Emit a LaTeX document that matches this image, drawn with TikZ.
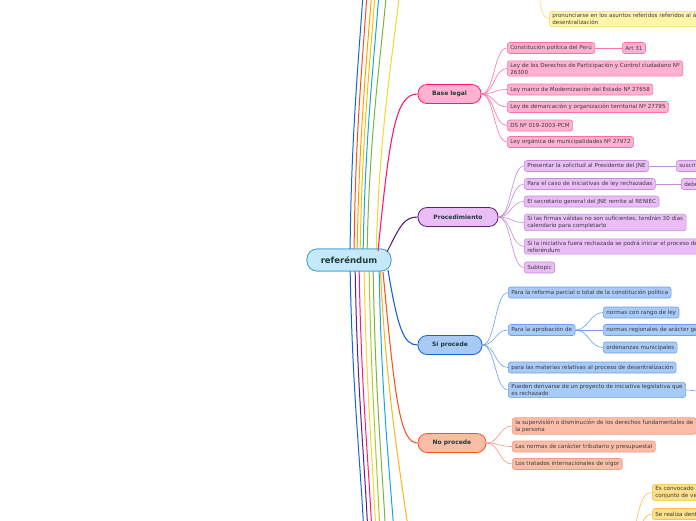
\documentclass[tikz,border=0pt]{standalone}
\usepackage{fontspec}
\setmainfont{DejaVu Sans}
\usetikzlibrary{positioning}
\definecolor{rootFill}{HTML}{C6E9FA}
\definecolor{rootBorder}{HTML}{3B9FD9}
\definecolor{mainText}{HTML}{1F3B3A}
\definecolor{subText}{HTML}{3A3A3A}
\definecolor{pinkMain}{HTML}{FF1A7A}
\definecolor{pinkFill}{HTML}{FFB1D1}
\definecolor{pinkSub}{HTML}{FF70AA}
\definecolor{violetMain}{HTML}{5E1F78}
\definecolor{violetFill}{HTML}{EBBDF7}
\definecolor{violetSub}{HTML}{C68CDA}
\definecolor{blueMain}{HTML}{1A62D6}
\definecolor{blueFill}{HTML}{A8CAF7}
\definecolor{blueSub}{HTML}{6CA1EC}
\definecolor{redMain}{HTML}{F4582A}
\definecolor{redFill}{HTML}{FBBDA8}
\definecolor{redSub}{HTML}{F59A80}
\definecolor{yellowFill}{HTML}{FFF6A6}
\definecolor{yellowSub}{HTML}{F2E06A}
\definecolor{goldFill}{HTML}{FDE08A}
\definecolor{goldSub}{HTML}{F7C04F}
\definecolor{lineBlue}{HTML}{1565D8}
\definecolor{lineOrangeRed}{HTML}{F4511E}
\definecolor{lineOrange}{HTML}{FFA000}
\definecolor{lineGold}{HTML}{F5C400}
\definecolor{lineCyan}{HTML}{16A5E8}
\definecolor{lineGreen}{HTML}{7CB342}
\definecolor{lineYellow}{HTML}{F0DA2A}
\definecolor{lineLime}{HTML}{A5CC2A}
\definecolor{lineAmber}{HTML}{FBB514}
\tikzstyle{rootNode}=[draw=rootBorder, fill=rootFill, rounded corners=10pt, minimum width=84pt, minimum height=22pt, inner sep=0pt, font=\fontsize{8.5}{10}\selectfont\bfseries, text=mainText, line width=0.7pt]
\tikzstyle{mainNode}=[rounded corners=9pt, minimum height=19pt, inner sep=0pt, font=\fontsize{6}{7}\selectfont\bfseries, text=mainText, line width=0.8pt]
\tikzstyle{subNode}=[anchor=west, rounded corners=2.5pt, inner xsep=3pt, inner ysep=1.9pt, minimum height=11pt, align=left, font=\fontsize{5.6}{7}\selectfont, text=subText, line width=0.6pt]
\tikzstyle{mainLink}=[line width=1.1pt]
\tikzstyle{subLink}=[line width=0.6pt]
\tikzstyle{rootLink}=[line width=1pt]

\begin{document}
\begin{tikzpicture}[x=1pt, y=-1pt]
	\clip (0,0) rectangle (696,520);
	\fill[white] (0,0) rectangle (696,520);
	
	% branches that leave the view
	\coordinate (u1) at (365,-40);
	\coordinate (u2) at (369,-40);
	\coordinate (u3) at (374,-40);
	\coordinate (u4) at (377,-40);
	\coordinate (u5) at (381,-40);
	\coordinate (u6) at (389,-40);
	\coordinate (u7) at (403,-40);
	\coordinate (d1) at (365,560);
	\coordinate (d2) at (369,560);
	\coordinate (d3) at (373,560);
	\coordinate (d4) at (377,560);
	\coordinate (d5) at (381,560);
	\coordinate (d6) at (387,560);
	\coordinate (d7) at (396,560);
	\coordinate (d8) at (413,560);
	
	\node[rootNode] (root) at (349,260) {referéndum};
	
	\draw[rootLink, lineBlue] ([xshift=1pt]root.center) .. controls (351,120) and (361,40) .. (u1);
	\draw[rootLink, lineOrangeRed] ([xshift=5pt]root.center) .. controls (355,120) and (365,40) .. (u2);
	\draw[rootLink, lineOrange] ([xshift=8pt]root.center) .. controls (359,120) and (369,40) .. (u3);
	\draw[rootLink, lineGold] ([xshift=11pt]root.center) .. controls (362,120) and (373,40) .. (u4);
	\draw[rootLink, lineCyan] ([xshift=14pt]root.center) .. controls (365,120) and (377,40) .. (u5);
	\draw[rootLink, lineGreen] ([xshift=18pt]root.center) .. controls (369,120) and (384,40) .. (u6);
	\draw[rootLink, lineYellow] ([xshift=27pt]root.center) .. controls (379,120) and (396,40) .. (u7);
	
	\draw[rootLink, lineBlue] ([xshift=1pt]root.center) .. controls (352,400) and (362,470) .. (d1);
	\draw[rootLink, violetMain] ([xshift=6pt]root.center) .. controls (357,400) and (366,470) .. (d2);
	\draw[rootLink, pinkMain] ([xshift=10pt]root.center) .. controls (361,400) and (370,470) .. (d3);
	\draw[rootLink, lineYellow] ([xshift=15pt]root.center) .. controls (366,400) and (374,470) .. (d4);
	\draw[rootLink, lineLime] ([xshift=20pt]root.center) .. controls (371,400) and (378,470) .. (d5);
	\draw[rootLink, lineGreen] ([xshift=24pt]root.center) .. controls (375,400) and (383,470) .. (d6);
	\draw[rootLink, lineCyan] ([xshift=30pt]root.center) .. controls (381,400) and (390,470) .. (d7);
	\draw[rootLink, lineAmber] ([xshift=31pt]root.center) .. controls (385,380) and (398,460) .. (d8);
	
	\node[rootNode] at (root) {referéndum};
	
	% main topics
	\node[mainNode, draw=pinkMain, fill=pinkFill, minimum width=63pt] (legal) at (449.5,94) {Base legal};
	\node[mainNode, draw=violetMain, fill=violetFill, minimum width=80pt] (proc) at (458,217) {Procedimiento};
	\node[mainNode, draw=blueMain, fill=blueFill, minimum width=64pt] (si) at (450,345) {Sí procede};
	\node[mainNode, draw=redMain, fill=redFill, minimum width=68pt] (no) at (452,443) {No procede};
	
	\draw[mainLink, pinkMain] ([xshift=29pt,yshift=9pt]root.center) .. controls (390,130) and (396,94) .. (legal.west);
	\draw[mainLink, violetMain] ([xshift=38pt,yshift=8pt]root.center) .. controls (400,226) and (404,217) .. (proc.west);
	\draw[mainLink, blueMain] ([xshift=39pt,yshift=-10pt]root.center) .. controls (398,330) and (404,345) .. (si.west);
	\draw[mainLink, redMain] ([xshift=34pt,yshift=-12pt]root.center) .. controls (395,400) and (400,443) .. (no.west);
	
	% Base legal
	\node[subNode, draw=pinkSub, fill=pinkFill] (l1) at (507,48) {Constitución política del Perú};
	\node[subNode, draw=pinkSub, fill=pinkFill] (l1a) at (622,48) {Art 31};
	\node[subNode, draw=pinkSub, fill=pinkFill] (l2) at (507,68.5) {Ley de los Derechos de Participación y Control ciudadano Nº\\26300};
	\node[subNode, draw=pinkSub, fill=pinkFill] (l3) at (507,89.5) {Ley marco de Modernización del Estado Nº 27658};
	\node[subNode, draw=pinkSub, fill=pinkFill] (l4) at (507,107) {Ley de demarcación y organización territorial Nº 27795};
	\node[subNode, draw=pinkSub, fill=pinkFill] (l5) at (507,125.5) {DS Nº 019-2003-PCM};
	\node[subNode, draw=pinkSub, fill=pinkFill] (l6) at (507,142) {Ley orgánica de municipalidades Nº 27972};
	
	\draw[subLink, pinkSub] (legal.east) .. controls +(13,0) and +(-13,0) .. (l1.west);
	\draw[subLink, pinkSub] (legal.east) .. controls +(13,0) and +(-13,0) .. (l2.west);
	\draw[subLink, pinkSub] (legal.east) .. controls +(13,0) and +(-13,0) .. (l3.west);
	\draw[subLink, pinkSub] (legal.east) .. controls +(13,0) and +(-13,0) .. (l4.west);
	\draw[subLink, pinkSub] (legal.east) .. controls +(13,0) and +(-13,0) .. (l5.west);
	\draw[subLink, pinkSub] (legal.east) .. controls +(13,0) and +(-13,0) .. (l6.west);
	\draw[subLink, pinkSub] (l1.east) -- (l1a.west);
	
	% Procedimiento
	\node[subNode, draw=violetSub, fill=violetFill] (p1) at (524,166) {Presentar la solicitud al Presidente del JNE};
	\node[subNode, draw=violetSub, fill=violetFill] (p1a) at (676,166) {suscrita por los promotores};
	\node[subNode, draw=violetSub, fill=violetFill] (p2) at (524,184) {Para el caso de iniciativas de ley rechazadas};
	\node[subNode, draw=violetSub, fill=violetFill] (p2a) at (681,184) {deben};
	\node[subNode, draw=violetSub, fill=violetFill] (p3) at (524,201.5) {El secretario general del JNE remite al RENIEC};
	\node[subNode, draw=violetSub, fill=violetFill] (p4) at (524,222.5) {Si las firmas válidas no son suficientes, tendrán 30 días\\calendario para completarlo};
	\node[subNode, draw=violetSub, fill=violetFill] (p5) at (524,246.5) {Si la iniciativa fuera rechazada se podrá iniciar el proceso de\\referéndum};
	\node[subNode, draw=violetSub, fill=violetFill] (p6) at (524,267.5) {Subtopic};
	
	\draw[subLink, violetSub] (proc.east) .. controls +(13,0) and +(-13,0) .. (p1.west);
	\draw[subLink, violetSub] (proc.east) .. controls +(13,0) and +(-13,0) .. (p2.west);
	\draw[subLink, violetSub] (proc.east) .. controls +(13,0) and +(-13,0) .. (p3.west);
	\draw[subLink, violetSub] (proc.east) .. controls +(13,0) and +(-13,0) .. (p4.west);
	\draw[subLink, violetSub] (proc.east) .. controls +(13,0) and +(-13,0) .. (p5.west);
	\draw[subLink, violetSub] (proc.east) .. controls +(13,0) and +(-13,0) .. (p6.west);
	\draw[subLink, violetSub] (p1.east) -- (p1a.west);
	\draw[subLink, violetSub] (p2.east) -- (p2a.west);
	
	% Sí procede
	\coordinate (s5out) at (720,394);
	\node[subNode, draw=blueSub, fill=blueFill] (s1) at (508,292.5) {Para la reforma parcial o total de la constitución política};
	\node[subNode, draw=blueSub, fill=blueFill] (s2) at (508,330) {Para la aprobación de};
	\node[subNode, draw=blueSub, fill=blueFill] (s2a) at (603,312.5) {normas con rango de ley};
	\node[subNode, draw=blueSub, fill=blueFill] (s2b) at (603,330) {normas regionales de arácter general};
	\node[subNode, draw=blueSub, fill=blueFill] (s2c) at (603,347.5) {ordenanzas municipales};
	\node[subNode, draw=blueSub, fill=blueFill] (s3) at (508,367.5) {para las materias relativas al proceso de desentralización};
	\node[subNode, draw=blueSub, fill=blueFill] (s4) at (508,390) {Pueden derivarse de un proyecto de iniciativa legislativa que\\es rechazado};
	
	\draw[subLink, blueSub] (si.east) .. controls +(13,0) and +(-13,0) .. (s1.west);
	\draw[subLink, blueSub] (si.east) .. controls +(13,0) and +(-13,0) .. (s2.west);
	\draw[subLink, blueSub] (si.east) .. controls +(13,0) and +(-13,0) .. (s3.west);
	\draw[subLink, blueSub] (si.east) .. controls +(13,0) and +(-13,0) .. (s4.west);
	\draw[subLink, blueSub] (s2.east) .. controls +(13,0) and +(-13,0) .. (s2a.west);
	\draw[subLink, blueSub] (s2.east) .. controls +(13,0) and +(-13,0) .. (s2b.west);
	\draw[subLink, blueSub] (s2.east) .. controls +(13,0) and +(-13,0) .. (s2c.west);
	\draw[subLink, blueSub] (s4.east) .. controls +(8,0) and +(-8,0) .. (s5out);
	
	% No procede
	\node[subNode, draw=redSub, fill=redFill] (n1) at (512,426) {la supervisión o disminución de los derechos fundamentales de\\la persona};
	\node[subNode, draw=redSub, fill=redFill] (n2) at (512,446.5) {Las normas de carácter tributario y presupuestal};
	\node[subNode, draw=redSub, fill=redFill] (n3) at (512,464) {Los tratados internacionales de vigor};
	
	\draw[subLink, redSub] (no.east) .. controls +(13,0) and +(-13,0) .. (n1.west);
	\draw[subLink, redSub] (no.east) .. controls +(13,0) and +(-13,0) .. (n2.west);
	\draw[subLink, redSub] (no.east) .. controls +(13,0) and +(-13,0) .. (n3.west);
	
	% topics cut by the border
	\coordinate (topIn) at (538,-20);
	\node[subNode, draw=yellowSub, fill=yellowFill] (y1) at (549,19) {pronunciarse en los asuntos referidos referidos al ámbito de la\\desentralización};
	\draw[subLink, yellowSub] (topIn) .. controls (540,10) and (542,17) .. (y1.west);
	
	\coordinate (botIn) at (630,545);
	\node[subNode, draw=goldSub, fill=goldFill] (g1) at (652,492.5) {Es convocado por el\\conjunto de vecinos};
	\node[subNode, draw=goldSub, fill=goldFill] (g2) at (652,514) {Se realiza dentro de};
	\draw[subLink, goldSub] (botIn) .. controls (640,510) and (640,492.5) .. (g1.west);
	\draw[subLink, goldSub] (botIn) .. controls (642,525) and (644,514) .. (g2.west);
\end{tikzpicture}
\end{document}
